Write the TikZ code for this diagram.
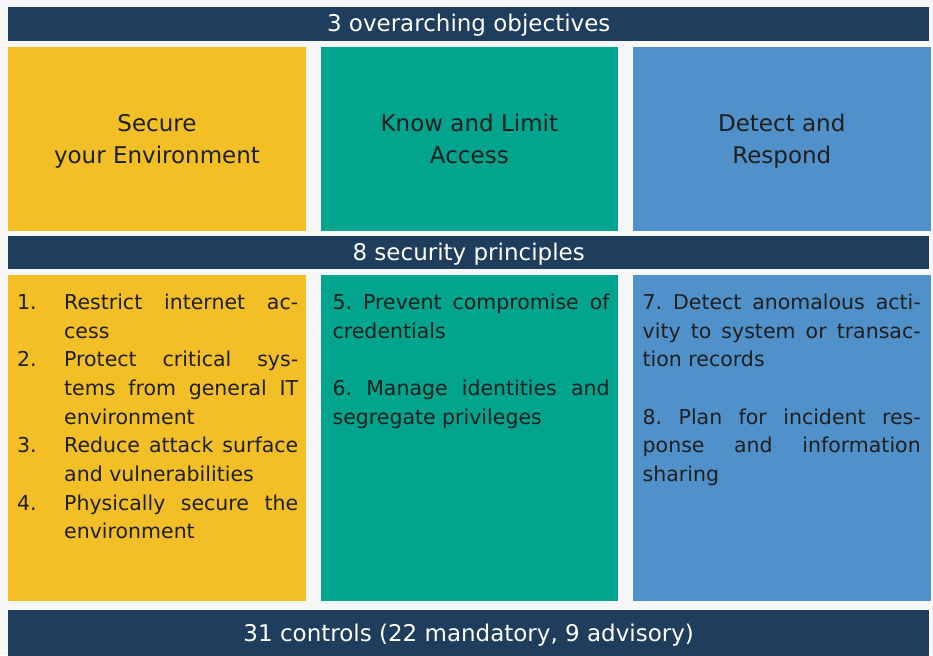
\documentclass[tikz,border=0pt]{standalone}
\usepackage{fontspec}
\setmainfont{DejaVu Sans}
\usetikzlibrary{positioning}
\setlength{\parindent}{0pt}
\frenchspacing
\definecolor{navy}{HTML}{1F3D5C}
\definecolor{secyellow}{HTML}{F2BF27}
\definecolor{accteal}{HTML}{02A48D}
\definecolor{detblue}{HTML}{5091CA}
\definecolor{pagebg}{HTML}{F7F7F7}
\tikzstyle{bar} = [rectangle, fill=navy, text=white, minimum width=921pt, inner sep=0pt, text height=17.5pt, text depth=1.5pt, font=\fontsize{23}{27}\selectfont]
\tikzstyle{objective} = [rectangle, minimum width=297.5pt, minimum height=184pt, inner sep=0pt, align=center, text=black!88, font=\fontsize{23}{32}\selectfont]
\tikzstyle{area} = [rectangle, minimum width=297.5pt, minimum height=326pt, inner sep=0pt]
\tikzstyle{principles} = [inner sep=0pt, align=justify, text=black!88, font=\fontsize{20.5}{28.7}\selectfont\frenchspacing]
% even line boxes for the two-line headings
\newcommand{\objstrut}{\rule[-6pt]{0pt}{30pt}}
% numbered item with hanging indent
\newcommand{\principle}[2]{\noindent\hangindent=47pt\hangafter=1\makebox[47pt][l]{#1}#2\par}

\begin{document}
\begin{tikzpicture}[x=1pt, y=1pt]
	\fill [pagebg] (0,0) rectangle (933,-655);
	\useasboundingbox (0,0) rectangle (933,-655);

	\node (objbar) [bar, minimum height=33.5pt, anchor=north west] at (8,-7) {3 overarching objectives};
	\node (secure) [objective, fill=secyellow, below=5.5pt of objbar.south west, anchor=north west] {\objstrut Secure\\\objstrut your Environment};
	\node (access) [objective, fill=accteal, right=14.5pt of secure] {\objstrut Know and Limit\\\objstrut Access};
	\node (detect) [objective, fill=detblue, right=14.5pt of access] {\objstrut Detect and\\\objstrut Respond};

	\node (princbar) [bar, minimum height=32.5pt, below=5pt of secure.south west, anchor=north west] {8 security principles};
	\node (securelist) [area, fill=secyellow, below=6.5pt of princbar.south west, anchor=north west] {};
	\node (accesslist) [area, fill=accteal, right=14.5pt of securelist] {};
	\node (detectlist) [area, fill=detblue, right=14.5pt of accesslist] {};

	\node (ctrlbar) [bar, minimum height=47pt, below=8pt of securelist.south west, anchor=north west] {31 controls (22 mandatory, 9 advisory)};

	% principle texts
	\node (securetext) [principles, text width=281pt, below right=18.4pt and 9pt of securelist.north west] {%
		\principle{1.}{Restrict internet ac-\linebreak cess}%
		\principle{2.}{Protect critical sys-\linebreak tems from general IT\linebreak environment}%
		\principle{3.}{Reduce attack surface\linebreak and vulnerabilities}%
		\principle{4.}{Physically secure the\linebreak environment}};
	\node (accesstext) [principles, text width=277pt, below right=18.4pt and 12pt of accesslist.north west] {%
		5. Prevent compromise of\linebreak credentials\par\vspace{\baselineskip}
		6. Manage identities and\linebreak segregate privileges};
	\node (detecttext) [principles, text width=278pt, below right=18.4pt and 9.7pt of detectlist.north west] {%
		7. Detect anomalous acti-\linebreak vity to system or transac-\linebreak tion records\par\vspace{\baselineskip}
		8. Plan for incident res-\linebreak ponse and information\linebreak sharing};
\end{tikzpicture}
\end{document}
